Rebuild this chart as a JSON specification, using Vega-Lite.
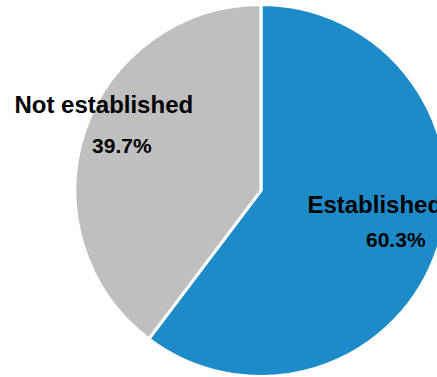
{
  "$schema": "https://vega.github.io/schema/vega-lite/v6.json",
  "width": 352,
  "height": 372,
  "autosize": {"type": "none"},
  "padding": {"left": 85, "top": 4.5, "right": 0, "bottom": 0.5},
  "background": "white",
  "config": {"view": {"stroke": null}, "font": "Liberation Sans"},
  "data": {"values": [
    {"category": "Established", "share": 60.3, "label": "60.3%"},
    {"category": "Not established", "share": 39.7, "label": "39.7%"}
  ]},
  "encoding": {
    "theta": {"field": "share", "type": "quantitative", "stack": true},
    "order": {"field": "category", "type": "ordinal", "sort": "ascending"}
  },
  "layer": [
    {
      "mark": {"type": "arc", "radius": 186, "stroke": "white", "strokeWidth": 3},
      "encoding": {
        "color": {"field": "category", "type": "nominal", "legend": null,
          "scale": {"domain": ["Established", "Not established"], "range": ["#1e8bc9", "#bfbfbf"]}}
      }
    },
    {
      "mark": {"type": "text", "radius": 120, "fontSize": 24, "fontWeight": "bold", "fill": "black", "align": "center", "baseline": "alphabetic", "dx": 0, "dy": -16},
      "encoding": {"text": {"condition": {"test": "datum.category == 'Established'", "field": "category"}, "value": ""}}
    },
    {
      "mark": {"type": "text", "radius": 120, "fontSize": 21, "fontWeight": "bold", "fill": "black", "align": "center", "baseline": "alphabetic", "dx": 21, "dy": 18},
      "encoding": {"text": {"condition": {"test": "datum.category == 'Established'", "field": "label"}, "value": ""}}
    },
    {
      "mark": {"type": "text", "radius": 150, "fontSize": 24, "fontWeight": "bold", "fill": "black", "align": "center", "baseline": "alphabetic", "dx": -15, "dy": -30},
      "encoding": {"text": {"condition": {"test": "datum.category == 'Not established'", "field": "category"}, "value": ""}}
    },
    {
      "mark": {"type": "text", "radius": 150, "fontSize": 21, "fontWeight": "bold", "fill": "black", "align": "center", "baseline": "alphabetic", "dx": 3, "dy": 10},
      "encoding": {"text": {"condition": {"test": "datum.category == 'Not established'", "field": "label"}, "value": ""}}
    }
  ]
}
